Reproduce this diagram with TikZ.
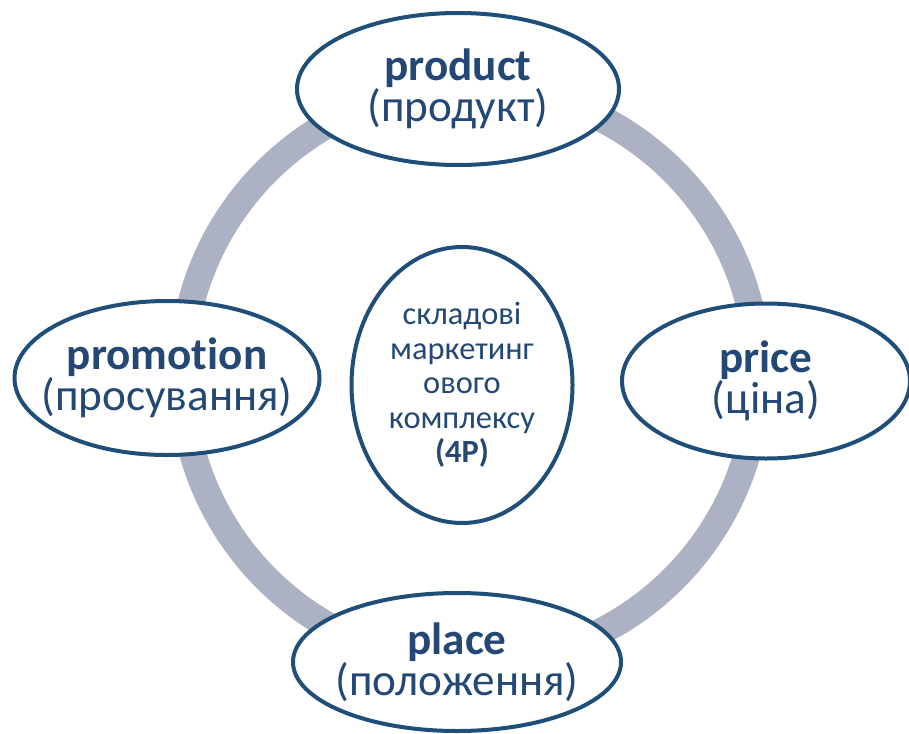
\documentclass[tikz,border=0pt]{standalone}
\usepackage{fontspec}
\setmainfont{Carlito}[Ligatures=NoCommon]
\usepackage{tikz}
\usetikzlibrary{shapes,positioning,calc}
\definecolor{pblue}{RGB}{31,78,121}
\definecolor{ptext}{RGB}{36,72,118}
\definecolor{pring}{RGB}{172,178,195}

\begin{document}
\begin{tikzpicture}[x=0.5pt,y=-0.5pt,
  part/.style={draw=pblue,line width=2pt,fill=white,ellipse,inner xsep=-25pt,inner ysep=-15pt,align=center,text=ptext,font=\fontsize{22.6}{20.5}\selectfont},
  core/.style={part,font=\fontsize{16.2}{17.2}\selectfont}]
\useasboundingbox (0,0) rectangle (909,733);
% the ring behind the four P's
\coordinate (hub) at (470,375);
\draw[pring,line width=13.5pt] (hub) circle[radius=144pt];
\node[core,minimum width=110.5pt,minimum height=138pt] (mix) at (462,385) {складові\\маркетинг\\ового\\комплексу\\\textbf{(4P)}};
\node[part,minimum width=161pt,minimum height=76pt] (product) at (458,89) {\textbf{product}\\(продукт)};
\node[part,minimum width=152.5pt,minimum height=77pt] (promo) at (167,378) {\textbf{promotion}\\(просування)};
\node[part,minimum width=144pt,minimum height=77.5pt] (price) at (766,381) {\textbf{price}\\(ціна)};
\node[part,minimum width=164pt,minimum height=69pt] (place) at (457,662) {\textbf{place}\\(положення)};
\end{tikzpicture}
\end{document}
